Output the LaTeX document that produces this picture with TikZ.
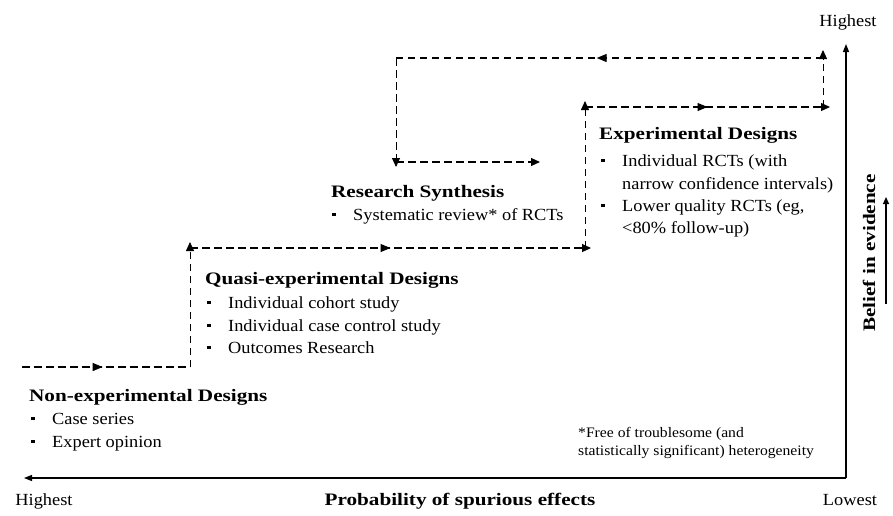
\documentclass[tikz,border=0pt]{standalone}
\usepackage{fontspec}
\setmainfont{Liberation Serif}[FakeStretch=1.08]
\newfontfamily\boldstretch{Liberation Serif}[FakeStretch=1.21]
\usetikzlibrary{arrows.meta,decorations.markings}
\newcommand\bodyf{\fontsize{17}{20}\selectfont}
\newcommand\titlef{\boldstretch\bfseries\fontsize{17.5}{20}\selectfont}
\newcommand\notef{\fontsize{14.5}{17}\selectfont}
\newcommand\bul{\makebox[21pt][l]{\rule[4pt]{3.5pt}{3.5pt}}}
\tikzset{
  flow/.style={dash pattern=on 7.5pt off 4.5pt, line width=1.2pt},
  vflow/.style={dash pattern=on 7.5pt off 4.5pt, line width=0.9pt},
  tipend/.style={-{Triangle[length=9pt,width=8pt]}},
  midarrow/.style={postaction={decorate}, decoration={markings,
      mark=at position #1 with {\arrow{Triangle[length=10pt,width=8pt]}}}},
  axisline/.style={line width=1.2pt, -{Triangle[length=8pt,width=6pt]}},
  txt/.style={anchor=base west, inner sep=0pt, font=\bodyf},
  ttl/.style={anchor=base west, inner sep=0pt, font=\titlef},
  note/.style={anchor=base west, inner sep=0pt, font=\notef},
  lbl/.style={anchor=base, inner sep=0pt, font=\bodyf},
}
\begin{document}
\begin{tikzpicture}[x=1pt,y=-1pt]
\useasboundingbox (0,0) rectangle (893,515);

% staircase corner points
\coordinate (s0) at (22,367);
\coordinate (s1) at (190,367);
\coordinate (s2tip) at (190,242);
\coordinate (s2) at (190,248);
\coordinate (s3) at (591,248);
\coordinate (s3v) at (585,248);
\coordinate (s4tip) at (585,101);
\coordinate (s4) at (585,107);
\coordinate (s5) at (830,107);
\coordinate (s5v) at (823,107);
\coordinate (s6tip) at (823,50);
\coordinate (s6) at (823,58);
\coordinate (s7) at (396,58);
\coordinate (s8tip) at (396,167);
\coordinate (s8) at (396,162);
\coordinate (s9) at (540,162);

\draw[flow, midarrow=0.48] (s0) -- (s1);
\draw[vflow, tipend] (s1) -- (s2tip);
\draw[flow, midarrow=0.5, tipend] (s2) -- (s3);
\draw[vflow, tipend] (s3v) -- (s4tip);
\draw[flow, midarrow=0.5, tipend] (s4) -- (s5);
\draw[vflow, tipend] (s5v) -- (s6tip);
\draw[flow, midarrow=0.53] (s6) -- (s7);
\draw[vflow, tipend] (s7) -- (s8tip);
\draw[flow, tipend] (s8) -- (s9);

% axes
\coordinate (origin) at (846,478);
\coordinate (xend) at (24,478);
\coordinate (yend) at (846,44);
\draw[axisline] (origin) -- (xend);
\draw[axisline] (origin) -- (yend);
\coordinate (beliefbot) at (886,304);
\coordinate (belieftop) at (886,197);
\draw[line width=1.3pt, -{Triangle[length=7pt,width=6pt]}] (beliefbot) -- (belieftop);

% Non-experimental
\node[ttl] (ne) at (29,401) {Non-experimental Designs};
\node[txt] (ne1) at (31,424) {\bul Case series};
\node[txt] (ne2) at (31,447) {\bul Expert opinion};

% Quasi-experimental
\node[ttl] (qe) at (205,284) {Quasi-experimental Designs};
\node[txt] (qe1) at (207,308) {\bul Individual cohort study};
\node[txt] (qe2) at (207,331) {\bul Individual case control study};
\node[txt] (qe3) at (207,353) {\bul Outcomes Research};

% Research synthesis
\node[ttl] (rs) at (331,197) {Research Synthesis};
\node[txt] (rs1) at (332,220) {\bul Systematic review* of RCTs};

% Experimental
\node[ttl] (ex) at (599,139) {Experimental Designs};
\node[txt] (ex1) at (601,166) {\bul Individual RCTs (with};
\node[txt] (ex2) at (622,189) {narrow confidence intervals)};
\node[txt] (ex3) at (601,211) {\bul Lower quality RCTs (eg,};
\node[txt] (ex4) at (622,233) {<80\% follow-up)};

% footnote
\node[note] (fn1) at (578,437) {*Free of troublesome (and};
\node[note] (fn2) at (578,455) {statistically significant) heterogeneity};

% axis labels
\node[lbl] (hl) at (44,505) {Highest};
\node[lbl, font=\titlef] (px) at (460,505) {Probability of spurious effects};
\node[lbl] (lo) at (850,505) {Lowest};
\node[lbl] (ht) at (848,26) {Highest};
\node[inner sep=0pt, font=\titlef, rotate=90] (bel) at (869,253) {Belief in evidence};
\end{tikzpicture}
\end{document}
